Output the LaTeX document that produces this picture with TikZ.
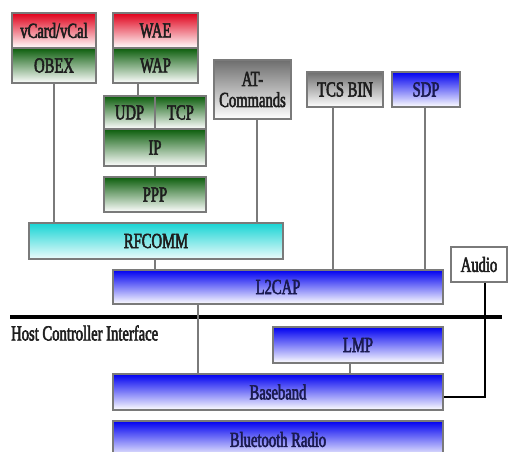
\documentclass[tikz,border=0pt]{standalone}
\usepackage{fontspec}
\setmainfont[FakeStretch=0.68,FakeBold=2.5]{Liberation Serif}
\usetikzlibrary{calc}
\definecolor{cred}{HTML}{E0001A}
\definecolor{cgreen}{HTML}{0B5D0B}
\definecolor{cgray}{HTML}{6E6E6E}
\definecolor{cblue}{HTML}{0000F0}
\definecolor{ccyan}{HTML}{18D4D4}
\definecolor{cborder}{HTML}{7A7A7A}
\definecolor{ctext}{HTML}{1E1E1E}
\definecolor{cnavy}{HTML}{1A1A50}
\tikzset{
  layer/.style={draw=cborder, line width=1.3pt, inner sep=0pt, text=ctext,
    font=\fontsize{21.5}{21}\selectfont, align=center},
  redbox/.style={layer, top color=cred, middle color=cred!25!white, bottom color=white},
  greenbox/.style={layer, top color=cgreen, middle color=cgreen!35!white, bottom color=white},
  graybox/.style={layer, top color=cgray, middle color=cgray!35!white, bottom color=white},
  bluebox/.style={layer, text=cnavy, top color=cblue, middle color=cblue!25!white, bottom color=white},
  cyanbox/.style={layer, top color=ccyan, middle color=ccyan!35!white, bottom color=ccyan!8!white},
  whitebox/.style={layer, fill=white},
  link/.style={draw=cborder, line width=1.3pt},
  audiolink/.style={draw=black, line width=2.2pt},
  bus/.style={draw=black, line width=4.5pt},
}
\newcommand{\boxat}[6]{% style, name, x1, y1, x2, y2 -> text follows
  \node[#1, minimum width={#5-#3}, minimum height={#6-#4}] (#2) at ({(#3+#5)/2},{(#4+#6)/2})}
\begin{document}
\begin{tikzpicture}[x=1pt, y=-1pt]
\useasboundingbox (0,0) rectangle (509,452);
\fill[white] (0,0) rectangle (509,452);
% upper stacks
\boxat{redbox}{vcard}{12}{13}{96}{48} {vCard/vCal};
\boxat{greenbox}{obex}{12}{48}{96}{83} {OBEX};
\boxat{redbox}{wae}{113}{13}{198}{48} {WAE};
\boxat{greenbox}{wap}{113}{48}{198}{83} {WAP};
\boxat{greenbox}{udp}{104}{96}{155}{129} {UDP};
\boxat{greenbox}{tcp}{155}{96}{206}{129} {TCP};
\boxat{greenbox}{ip}{104}{129}{206}{166} {IP};
\boxat{greenbox}{ppp}{104}{177}{206}{212} {PPP};
\boxat{graybox}{at}{214}{60}{291}{119} {AT-\\Commands};
\boxat{graybox}{tcs}{307}{72}{383}{107} {TCS BIN};
\boxat{bluebox}{sdp}{392}{72}{460}{107} {SDP};
\boxat{cyanbox}{rfcomm}{29}{223}{283}{259} {RFCOMM};
\boxat{whitebox}{audio}{451}{247}{507}{282} {Audio};
\boxat{bluebox}{l2cap}{113}{270}{443}{304} {L2CAP};
\boxat{bluebox}{lmp}{273}{327}{443}{363} {LMP};
\boxat{bluebox}{baseband}{113}{374}{443}{410} {Baseband};
\boxat{bluebox}{radio}{113}{421}{443}{458} {Bluetooth Radio};
% host controller interface bus
\coordinate (hciL) at (10,317);
\coordinate (hciR) at (502,317);
\draw[bus] (hciL) -- (hciR);
\node[anchor=west, inner sep=0pt, text=ctext, font=\fontsize{21.5}{21}\selectfont] (hcitext) at (11,333) {Host Controller Interface};
% connectors
\draw[link] (obex.south) -- (obex.south |- rfcomm.north);
\draw[link] ([xshift=-17.5pt]wap.south) -- ([xshift=-17.5pt]wap.south |- udp.north);
\draw[link] (ip.south) -- (ppp.north);
\draw[link] ([xshift=4.5pt]at.south) -- ([xshift=4.5pt]at.south |- rfcomm.north);
\draw[link] ([xshift=-12pt]tcs.south) -- ([xshift=-12pt]tcs.south |- l2cap.north);
\draw[link] ([xshift=-1pt]sdp.south) -- ([xshift=-1pt]sdp.south |- l2cap.north);
\draw[link] ([xshift=-1pt]rfcomm.south) -- ([xshift=-1pt]rfcomm.south |- l2cap.north);
\draw[link] ([xshift=-80pt]l2cap.south) -- ([xshift=-80pt]l2cap.south |- baseband.north);
\draw[link] ([xshift=-8pt]lmp.south) -- ([xshift=-8pt]lmp.south |- baseband.north);
\draw[audiolink] ([xshift=6pt]audio.south) |- ([yshift=-5pt]baseband.east);
\end{tikzpicture}
\end{document}
